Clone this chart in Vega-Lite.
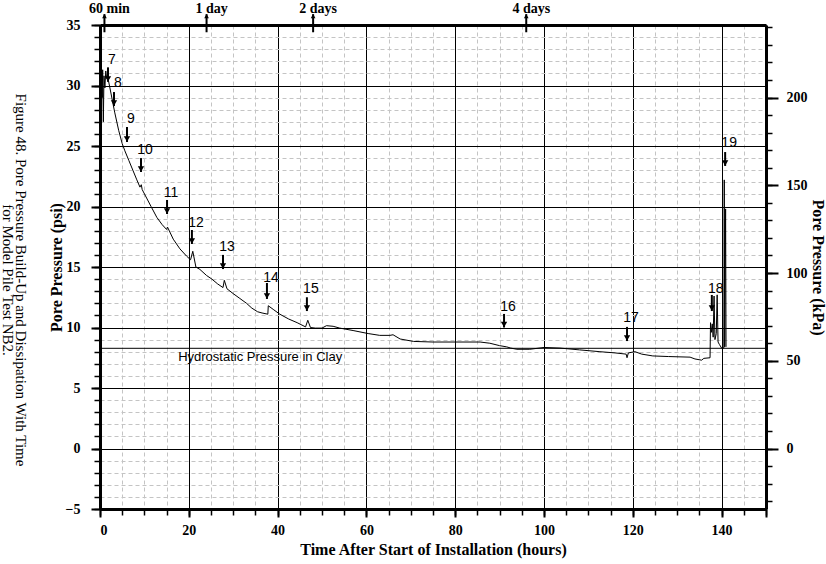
{
  "$schema": "https://vega.github.io/schema/vega-lite/v6.json",
  "width": 666,
  "height": 484,
  "autosize": {"type": "none"},
  "padding": {"left": 100, "top": 25, "right": 60, "bottom": 55},
  "background": "white",
  "config": {"view": {"stroke": null}},
  "title": {
    "text": ["Figure 48. Pore Pressure Build-Up and Dissipation With Time", "for Model Pile Test NB2."],
    "orient": "left",
    "angle": 90,
    "anchor": "middle",
    "font": "Liberation Serif",
    "fontSize": 15,
    "fontWeight": "normal",
    "color": "black",
    "offset": -8,
    "dx": 13,
    "lineHeight": 13
  },
  "datasets": {
    "curve": [
      {"t": 0.2, "p": 28.5}, {"t": 0.35, "p": 30.5}, {"t": 0.5, "p": 29.0}, {"t": 0.6, "p": 31.3},
      {"t": 0.75, "p": 27.0}, {"t": 0.9, "p": 30.8}, {"t": 1.1, "p": 29.8}, {"t": 1.3, "p": 31.2},
      {"t": 1.5, "p": 30.6}, {"t": 1.8, "p": 30.6}, {"t": 2.5, "p": 29.3}, {"t": 3.3, "p": 27.8},
      {"t": 4.2, "p": 26.3}, {"t": 5.0, "p": 25.2}, {"t": 5.6, "p": 24.6}, {"t": 6.5, "p": 23.8},
      {"t": 7.4, "p": 23.0}, {"t": 8.3, "p": 22.2}, {"t": 9.0, "p": 21.6}, {"t": 9.3, "p": 21.8},
      {"t": 9.5, "p": 21.4}, {"t": 10.5, "p": 20.7}, {"t": 11.5, "p": 20.0}, {"t": 12.8, "p": 19.1},
      {"t": 14.0, "p": 18.5}, {"t": 15.0, "p": 18.1}, {"t": 15.2, "p": 18.3}, {"t": 16.5, "p": 17.3},
      {"t": 18.0, "p": 16.5}, {"t": 19.5, "p": 15.9}, {"t": 20.4, "p": 15.6}, {"t": 20.9, "p": 16.3},
      {"t": 21.6, "p": 15.0}, {"t": 22.5, "p": 14.8}, {"t": 24.0, "p": 14.3}, {"t": 25.2, "p": 14.0},
      {"t": 26.5, "p": 13.6}, {"t": 27.7, "p": 13.3}, {"t": 28.0, "p": 13.9}, {"t": 28.6, "p": 13.2},
      {"t": 30.0, "p": 12.8}, {"t": 31.5, "p": 12.4}, {"t": 33.0, "p": 12.0}, {"t": 34.2, "p": 11.6},
      {"t": 35.5, "p": 11.3}, {"t": 36.5, "p": 11.2}, {"t": 37.8, "p": 11.1}, {"t": 37.9, "p": 11.8},
      {"t": 39.0, "p": 11.5}, {"t": 40.5, "p": 11.1}, {"t": 42.5, "p": 10.7}, {"t": 44.4, "p": 10.4},
      {"t": 46.3, "p": 10.05}, {"t": 46.8, "p": 10.6}, {"t": 47.4, "p": 10.0}, {"t": 48.5, "p": 9.95},
      {"t": 50.0, "p": 9.95}, {"t": 51.0, "p": 10.15}, {"t": 52.5, "p": 10.1}, {"t": 54.0, "p": 9.95},
      {"t": 57.0, "p": 9.75}, {"t": 60.4, "p": 9.5}, {"t": 63.0, "p": 9.35}, {"t": 65.3, "p": 9.35},
      {"t": 66.0, "p": 9.4}, {"t": 67.6, "p": 9.05}, {"t": 70.6, "p": 8.85}, {"t": 75.0, "p": 8.8},
      {"t": 80.0, "p": 8.8}, {"t": 85.6, "p": 8.8}, {"t": 87.8, "p": 8.7}, {"t": 90.0, "p": 8.5},
      {"t": 91.6, "p": 8.4}, {"t": 92.5, "p": 8.3}, {"t": 93.9, "p": 8.2}, {"t": 96.8, "p": 8.2},
      {"t": 100.0, "p": 8.35}, {"t": 103.6, "p": 8.3}, {"t": 108.0, "p": 8.15}, {"t": 112.6, "p": 8.0},
      {"t": 116.0, "p": 7.9}, {"t": 118.5, "p": 7.8}, {"t": 118.7, "p": 7.5}, {"t": 119.0, "p": 7.9},
      {"t": 120.5, "p": 8.0}, {"t": 122.0, "p": 7.8}, {"t": 124.5, "p": 7.65}, {"t": 128.0, "p": 7.6},
      {"t": 132.9, "p": 7.55}, {"t": 134.0, "p": 7.4}, {"t": 135.5, "p": 7.3}, {"t": 136.0, "p": 7.45},
      {"t": 137.4, "p": 7.5}, {"t": 137.5, "p": 10.4}, {"t": 137.7, "p": 9.6}, {"t": 137.9, "p": 10.3},
      {"t": 138.1, "p": 9.2}, {"t": 138.3, "p": 12.6}, {"t": 138.5, "p": 9.0}, {"t": 138.8, "p": 9.5},
      {"t": 139.0, "p": 12.7}, {"t": 139.2, "p": 8.8}, {"t": 139.5, "p": 8.6}, {"t": 140.0, "p": 8.3},
      {"t": 140.5, "p": 8.3}, {"t": 140.6, "p": 22.2}, {"t": 140.7, "p": 8.4}, {"t": 140.9, "p": 19.8},
      {"t": 141.0, "p": 8.4}
    ],
    "arrows": [
      {"n": "7", "t": 1.8, "top": 31.5, "tip": 30.3, "lab": 32.1},
      {"n": "8", "t": 3.15, "top": 29.46, "tip": 28.3, "lab": 30.2},
      {"n": "9", "t": 6.08, "top": 26.57, "tip": 25.33, "lab": 27.2},
      {"n": "10", "t": 9.23, "top": 24.0, "tip": 22.85, "lab": 24.67},
      {"n": "11", "t": 15.1, "top": 20.54, "tip": 19.38, "lab": 21.1},
      {"n": "12", "t": 20.7, "top": 18.06, "tip": 16.9, "lab": 18.64},
      {"n": "13", "t": 27.7, "top": 16.0, "tip": 14.83, "lab": 16.65},
      {"n": "14", "t": 37.6, "top": 13.68, "tip": 12.36, "lab": 14.09},
      {"n": "15", "t": 46.6, "top": 12.5, "tip": 11.36, "lab": 13.18},
      {"n": "16", "t": 91.0, "top": 11.12, "tip": 10.0, "lab": 11.69},
      {"n": "17", "t": 118.7, "top": 10.05, "tip": 8.88, "lab": 10.78},
      {"n": "18", "t": 137.8, "top": 12.69, "tip": 11.36, "lab": 13.18},
      {"n": "19", "t": 140.8, "top": 24.5, "tip": 23.35, "lab": 25.25}
    ],
    "marks": [
      {"label": "60 min", "t": 1, "low": 34.4, "high": 35.9, "lab": 36.3},
      {"label": "1 day", "t": 24, "low": 34.4, "high": 35.9, "lab": 36.3},
      {"label": "2 days", "t": 48, "low": 34.4, "high": 35.9, "lab": 36.3},
      {"label": "4 days", "t": 96, "low": 34.4, "high": 35.9, "lab": 36.3}
    ],
    "hydro": [
      {"label": "Hydrostatic Pressure in Clay", "t": 17.6, "kpa": 57.1}
    ]
  },
  "resolve": {
    "scale": {"x": "independent", "y": "independent"},
    "axis": {"x": "independent", "y": "independent"}
  },
  "layer": [
    {
      "data": {"name": "curve"},
      "mark": {"type": "line", "color": "black", "strokeWidth": 1, "clip": true},
      "encoding": {
        "x": {"field": "t", "type": "quantitative", "scale": {"domain": [0, 150], "nice": false, "zero": false},
          "axis": {"orient": "bottom", "values": [0,5,10,15,20,25,30,35,40,45,50,55,60,65,70,75,80,85,90,95,100,105,110,115,120,125,130,135,140,145,150],
            "grid": true, "gridColor": "#c4c4c4", "gridDash": [4, 3], "gridWidth": 1,
            "ticks": true, "tickSize": 6, "tickColor": "black", "tickWidth": 1.5,
            "labels": false, "domain": false, "title": null}},
        "y": {"field": "p", "type": "quantitative", "scale": {"domain": [-5, 35], "nice": false, "zero": false},
          "axis": {"orient": "left", "values": [-5,-4,-3,-2,-1,0,1,2,3,4,5,6,7,8,9,10,11,12,13,14,15,16,17,18,19,20,21,22,23,24,25,26,27,28,29,30,31,32,33,34,35],
            "grid": true, "gridColor": "#c4c4c4", "gridDash": [4, 3], "gridWidth": 1,
            "ticks": true, "tickSize": 6, "tickColor": "black", "tickWidth": 1.5,
            "labels": false, "domain": false, "title": null}},
        "order": {"field": "t", "type": "quantitative"}
      }
    },
    {
      "data": {"name": "arrows"},
      "mark": {"type": "rule", "color": "black", "strokeWidth": 2},
      "encoding": {
        "x": {"field": "t", "type": "quantitative", "scale": {"domain": [0, 150], "nice": false, "zero": false},
          "axis": {"orient": "bottom", "values": [0,20,40,60,80,100,120,140,150],
            "labelExpr": "datum.value == 150 ? '' : datum.label",
            "grid": true, "gridColor": "black", "gridWidth": 1,
            "ticks": true, "tickSize": 8, "tickColor": "black", "tickWidth": 2,
            "domain": true, "domainColor": "black", "domainWidth": 3,
            "labelFont": "Liberation Serif", "labelFontWeight": "bold", "labelFontSize": 14, "labelColor": "black", "labelPadding": 6,
            "title": "Time After Start of Installation (hours)",
            "titleFont": "Liberation Serif", "titleFontWeight": "bold", "titleFontSize": 16, "titleColor": "black", "titlePadding": 4}},
        "y": {"field": "top", "type": "quantitative", "scale": {"domain": [-5, 35], "nice": false, "zero": false},
          "axis": {"orient": "left", "values": [-5,0,5,10,15,20,25,30,35],
            "grid": true, "gridColor": "black", "gridWidth": 1,
            "ticks": true, "tickSize": 9, "tickColor": "black", "tickWidth": 2,
            "domain": true, "domainColor": "black", "domainWidth": 3,
            "labelFont": "Liberation Serif", "labelFontWeight": "bold", "labelFontSize": 14, "labelColor": "black", "labelPadding": 11,
            "title": "Pore Pressure (psi)",
            "titleFont": "Liberation Serif", "titleFontWeight": "bold", "titleFontSize": 16, "titleColor": "black", "titlePadding": 1}},
        "y2": {"field": "tip"}
      }
    },
    {
      "data": {"name": "arrows"},
      "mark": {"type": "point", "shape": "triangle-down", "filled": true, "color": "black", "size": 40, "opacity": 1, "yOffset": -3},
      "encoding": {
        "x": {"field": "t", "type": "quantitative", "scale": {"domain": [0, 150], "nice": false, "zero": false}, "axis": null},
        "y": {"field": "tip", "type": "quantitative", "scale": {"domain": [-5, 35], "nice": false, "zero": false}, "axis": null}
      }
    },
    {
      "data": {"name": "arrows"},
      "mark": {"type": "text", "font": "Liberation Sans", "fontSize": 14, "color": "black", "align": "center", "baseline": "middle", "dx": 4},
      "encoding": {
        "x": {"field": "t", "type": "quantitative", "scale": {"domain": [0, 150], "nice": false, "zero": false}, "axis": null},
        "y": {"field": "lab", "type": "quantitative", "scale": {"domain": [-5, 35], "nice": false, "zero": false}, "axis": null},
        "text": {"field": "n"}
      }
    },
    {
      "data": {"name": "marks"},
      "mark": {"type": "rule", "color": "black", "strokeWidth": 2, "clip": false},
      "encoding": {
        "x": {"field": "t", "type": "quantitative", "scale": {"domain": [0, 150], "nice": false, "zero": false},
          "axis": {"orient": "top", "ticks": false, "labels": false, "grid": false, "domain": true, "domainColor": "black", "domainWidth": 3, "title": null}},
        "y": {"field": "high", "type": "quantitative", "scale": {"domain": [-5, 35], "nice": false, "zero": false}, "axis": null},
        "y2": {"field": "low"}
      }
    },
    {
      "data": {"name": "marks"},
      "mark": {"type": "point", "shape": "triangle-up", "filled": true, "color": "black", "size": 22, "opacity": 1, "yOffset": 2, "clip": false},
      "encoding": {
        "x": {"field": "t", "type": "quantitative", "scale": {"domain": [0, 150], "nice": false, "zero": false}, "axis": null},
        "y": {"field": "high", "type": "quantitative", "scale": {"domain": [-5, 35], "nice": false, "zero": false}, "axis": null}
      }
    },
    {
      "data": {"name": "marks"},
      "mark": {"type": "text", "font": "Liberation Serif", "fontWeight": "bold", "fontSize": 14, "color": "black", "align": "center", "baseline": "middle", "dx": 5, "clip": false},
      "encoding": {
        "x": {"field": "t", "type": "quantitative", "scale": {"domain": [0, 150], "nice": false, "zero": false}, "axis": null},
        "y": {"field": "lab", "type": "quantitative", "scale": {"domain": [-5, 35], "nice": false, "zero": false}, "axis": null},
        "text": {"field": "label"}
      }
    },
    {
      "data": {"name": "hydro"},
      "mark": {"type": "rule", "color": "black", "strokeWidth": 1},
      "encoding": {
        "y": {"field": "kpa", "type": "quantitative", "scale": {"domain": [-34.47, 241.32], "nice": false, "zero": false},
          "axis": {"orient": "right", "values": [0, 50, 100, 150, 200],
            "grid": false, "ticks": true, "tickSize": 12, "tickColor": "black", "tickWidth": 2,
            "domain": true, "domainColor": "black", "domainWidth": 3,
            "labelFont": "Liberation Serif", "labelFontWeight": "bold", "labelFontSize": 14, "labelColor": "black", "labelPadding": 8,
            "title": "Pore Pressure (kPa)",
            "titleFont": "Liberation Serif", "titleFontWeight": "bold", "titleFontSize": 16, "titleColor": "black", "titlePadding": 2}}
      }
    },
    {
      "data": {"name": "hydro"},
      "mark": {"type": "text", "font": "Liberation Sans", "fontSize": 13, "color": "black", "align": "left", "baseline": "middle", "dy": 9},
      "encoding": {
        "x": {"field": "t", "type": "quantitative", "scale": {"domain": [0, 150], "nice": false, "zero": false}, "axis": null},
        "y": {"field": "kpa", "type": "quantitative", "scale": {"domain": [-34.47, 241.32], "nice": false, "zero": false},
          "axis": {"orient": "right", "values": [-30,-20,-10,0,10,20,30,40,50,60,70,80,90,100,110,120,130,140,150,160,170,180,190,200,210,220,230,240],
            "grid": false, "ticks": true, "tickSize": 6, "tickColor": "black", "tickWidth": 1.5,
            "labels": false, "domain": false, "title": null}},
        "text": {"field": "label"}
      }
    }
  ]
}
